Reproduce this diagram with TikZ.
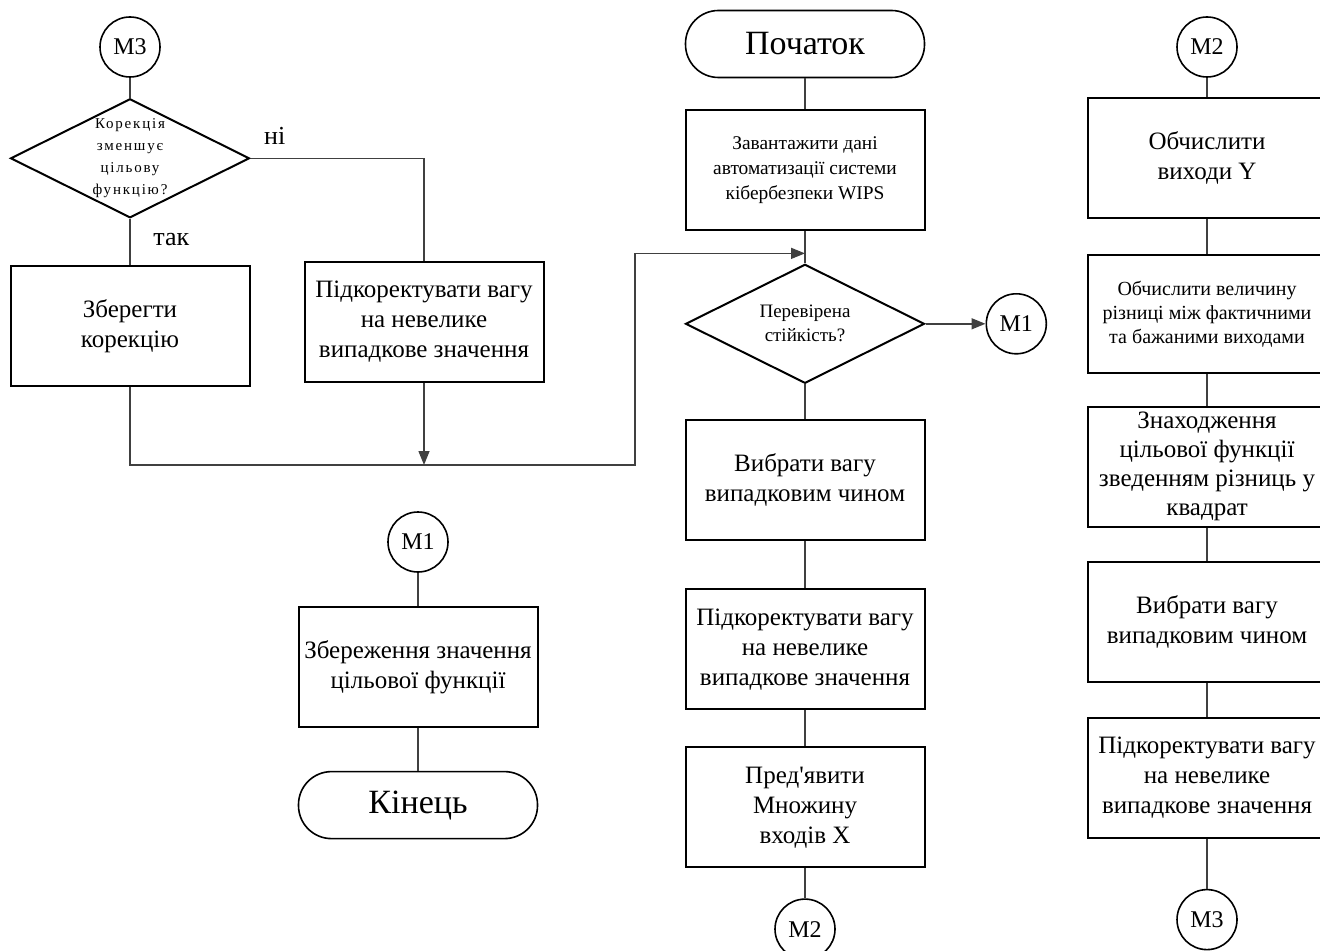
\documentclass[tikz,border=0pt]{standalone}
\usepackage{fontspec}
\setmainfont{Liberation Serif}
\newfontfamily\spacedfont[LetterSpace=12]{Liberation Serif}
\usetikzlibrary{arrows.meta,positioning,shapes.geometric,calc}

\begin{document}
\begin{tikzpicture}[
  x=0.5pt, y=-0.5pt,
  node distance=16pt,
  every node/.style={font=\fontsize{12.5}{15}\selectfont},
  box/.style={draw, line width=1pt, minimum width=119.5pt, minimum height=60pt,
              align=center, inner sep=1pt},
  term/.style={draw, line width=0.8pt, rounded corners=16.5pt, minimum width=119.5pt,
               minimum height=33.5pt, font=\fontsize{17}{20}\selectfont},
  conn/.style={draw, circle, line width=0.8pt, minimum size=30pt, inner sep=0pt,
               font=\fontsize{12}{14}\selectfont},
  decision/.style={draw, diamond, aspect=2, line width=1pt, minimum width=119.5pt,
                   minimum height=59.5pt, inner sep=0pt, align=center},
  smalltext/.style={font=\fontsize{9.7}{12.5}\selectfont},
  tinytext/.style={font=\spacedfont\fontsize{7.5}{10.9}\selectfont},
  answer/.style={font=\fontsize{13}{15}\selectfont},
  link/.style={draw=black!75, line width=0.75pt},
  arrow/.style={link, -{Triangle[length=7pt,width=5.5pt]}}
]
\useasboundingbox (0,0) rectangle (1320,951);

% left part: correction loop
\node[conn] (m3a) at (130,47) {M3};
\node[decision, tinytext, below=10pt of m3a] (corr) {Корекція\\зменшує\\цільову\\функцію?};
\node[box, below=23pt of corr] (keep) {Зберегти\\корекцію};
\node[box] (fixL) at (424,322) {Підкоректувати вагу\\на невелике\\випадкове значення};

% end part
\node[conn] (m1b) at (418,542) {M1};
\node[box, below=16.5pt of m1b] (store) {Збереження значення\\цільової функції};
\node[term, below=21.5pt of store] (finish) {Кінець};

% main column
\node[term] (start) at (805,44) {Початок};
\node[box, smalltext, below=15.5pt of start] (load) {Завантажити дані\\автоматизації системи\\кібербезпеки WIPS};
\node[decision, font=\fontsize{9.5}{12}\selectfont, below=16pt of load] (check) {Перевірена\\стійкість?};
\node[conn, right=30pt of check] (m1a) {M1};
\node[box, below=17.5pt of check] (pick) {Вибрати вагу\\випадковим чином};
\node[box, below=23.5pt of pick] (fix) {Підкоректувати вагу\\на невелике\\випадкове значення};
\node[box, below=18pt of fix] (present) {Пред\textquotesingle явити\\Множину\\входів X};
\node[conn, below=15pt of present] (m2a) {M2};

% right column
\node[conn] (m2b) at (1207,47) {M2};
\node[box, below=9.5pt of m2b] (outs) {Обчислити\\виходи Y};
\node[box, font=\fontsize{10}{12}\selectfont, minimum height=59pt, below=17.5pt of outs] (diff) {Обчислити величину\\різниці між фактичними\\та бажаними виходами};
\node[box, font=\fontsize{12.5}{14.5}\selectfont, inner sep=0pt, below=16pt of diff] (goal) {Знаходження\\цільової функції\\зведенням різниць у\\квадрат};
\node[box, below=16.5pt of goal] (pick2) {Вибрати вагу\\випадковим чином};
\node[box, below=17pt of pick2] (fix2) {Підкоректувати вагу\\на невелике\\випадкове значення};
\node[conn, below=25pt of fix2] (m3b) {M3};

\coordinate (back) at (635,465);
\coordinate (merge) at ($(load.south)!0.69!(check.north)$);

\draw[link] (m3a) -- (corr);
\draw[link] (corr) -- node[answer, right=8pt, pos=0.45] {так} (keep);
\draw[link] (corr.east) -| node[answer, pos=0.07, above=3pt] {ні} (fixL.north);
\draw[arrow] (keep.south) |- (back) |- (merge);
\draw[arrow] (fixL.south) -- (fixL.south |- back);

\draw[link] (m1b) -- (store);
\draw[link] (store) -- (finish);

\draw[link] (start) -- (load);
\draw[link] (load) -- (check);
\draw[arrow] (check) -- (m1a);
\draw[link] (check) -- (pick);
\draw[link] (pick) -- (fix);
\draw[link] (fix) -- (present);
\draw[link] (present) -- (m2a);

\draw[link] (m2b) -- (outs);
\draw[link] (outs) -- (diff);
\draw[link] (diff) -- (goal);
\draw[link] (goal) -- (pick2);
\draw[link] (pick2) -- (fix2);
\draw[link] (fix2) -- (m3b);
\end{tikzpicture}
\end{document}
